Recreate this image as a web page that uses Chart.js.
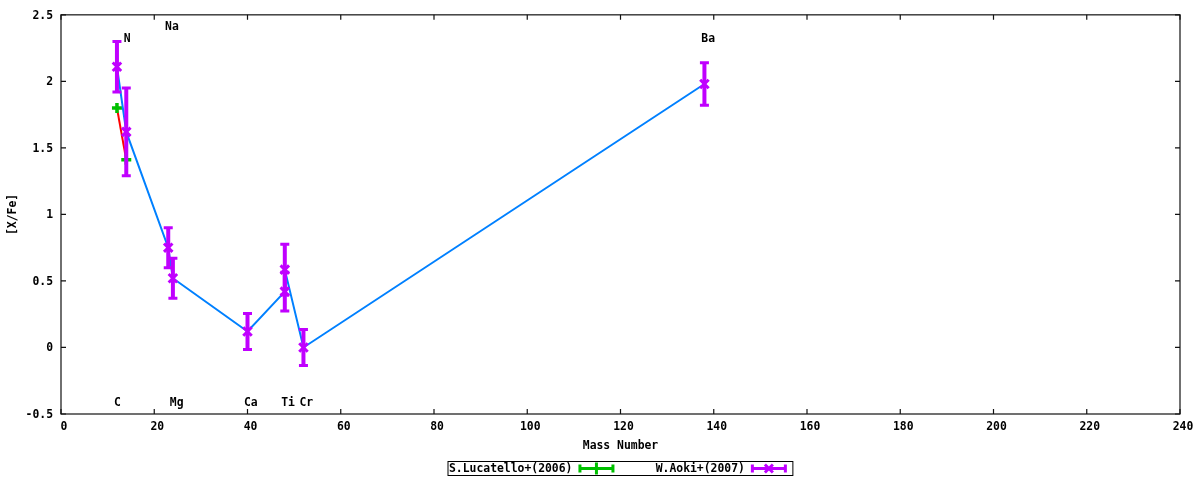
<!DOCTYPE html>
<html>
<head>
<meta charset="utf-8">
<script src="https://cdn.jsdelivr.net/npm/chart.js@4.4.1/dist/chart.umd.min.js"></script>
<style>
html, body { margin: 0; padding: 0; background: #fff; }
</style>
</head>
<body>
<canvas id="bolluk" width="1200" height="480"></canvas>
<script>
// S.Lucatello+(2006)
const lucMass = [12, 14];
const lucFe = [1.80, 1.41];

// W.Aoki+(2007)
const aokiMass = [12, 14, 23, 24, 40, 48, 48, 52, 138];
const aokiFe = [2.11, 1.62, 0.75, 0.52, 0.12, 0.42, 0.585, 0.0, 1.98];
const aokiErr = [0.19, 0.33, 0.15, 0.15, 0.135, 0.145, 0.19, 0.135, 0.16];

const seriesNames = ['S.Lucatello+(2006)', 'W.Aoki+(2007)'];

// element names written inside the plot
const elemNames = ['C', 'N', 'Na', 'Mg', 'Ca', 'Ti', 'Cr', 'Ba'];
const elemX = [12.1, 14.2, 23.8, 24.8, 40.7, 48.7, 52.6, 138.8];
const elemY = [-0.42, 2.32, 2.41, -0.42, -0.42, -0.42, -0.42, 2.32];

const xRange = [0, 240, 20];
const yRange = [-0.5, 2.5, 0.5];

const FONT = "bold 11.4px 'DejaVu Sans Mono'";
const yesil = '#00c000';
const mor = '#c000ff';
const mavi = '#0080ff';
const kirmizi = '#ff0000';

function pts(xs, ys) {
    return xs.map((v, i) => ({x: v, y: ys[i]}));
}

function drawSample(ctx, x0, x1, yc, color, mark) {
    ctx.strokeStyle = color;
    ctx.lineWidth = 3;
    ctx.beginPath();
    ctx.moveTo(x0, yc); ctx.lineTo(x1, yc);
    ctx.moveTo(x0 + 1.5, yc - 4); ctx.lineTo(x0 + 1.5, yc + 4);
    ctx.moveTo(x1 - 1.5, yc - 4); ctx.lineTo(x1 - 1.5, yc + 4);
    ctx.stroke();
    const xc = (x0 + x1) / 2;
    ctx.beginPath();
    if (mark === '+') {
        ctx.moveTo(xc, yc - 6); ctx.lineTo(xc, yc + 6);
    } else {
        ctx.moveTo(xc - 4, yc - 4); ctx.lineTo(xc + 4, yc + 4);
        ctx.moveTo(xc - 4, yc + 4); ctx.lineTo(xc + 4, yc - 4);
    }
    ctx.stroke();
}

const ciz = {
    id: 'ciz',
    afterDatasetsDraw(chart) {
        const {ctx, chartArea: a, scales: {x, y}} = chart;
        ctx.save();

        // error bars
        ctx.strokeStyle = mor;
        aokiMass.forEach((m, i) => {
            const px = x.getPixelForValue(m);
            const top = y.getPixelForValue(aokiFe[i] + aokiErr[i]);
            const bot = y.getPixelForValue(aokiFe[i] - aokiErr[i]);
            ctx.lineWidth = 4;
            ctx.beginPath();
            ctx.moveTo(px, top); ctx.lineTo(px, bot);
            ctx.stroke();
            ctx.lineWidth = 3;
            ctx.beginPath();
            ctx.moveTo(px - 4.5, top); ctx.lineTo(px + 4.5, top);
            ctx.moveTo(px - 4.5, bot); ctx.lineTo(px + 4.5, bot);
            ctx.stroke();
        });

        // element labels
        ctx.fillStyle = '#000';
        ctx.font = FONT;
        ctx.textAlign = 'center';
        ctx.textBaseline = 'middle';
        elemNames.forEach((n, i) => {
            ctx.fillText(n, x.getPixelForValue(elemX[i]), y.getPixelForValue(elemY[i]));
        });

        // frame and inward ticks
        ctx.strokeStyle = '#111';
        ctx.lineWidth = 1.2;
        ctx.strokeRect(a.left, a.top, a.right - a.left, a.bottom - a.top);
        ctx.beginPath();
        x.ticks.forEach(t => {
            const px = x.getPixelForValue(t.value);
            ctx.moveTo(px, a.bottom); ctx.lineTo(px, a.bottom - 5);
            ctx.moveTo(px, a.top); ctx.lineTo(px, a.top + 5);
        });
        y.ticks.forEach(t => {
            const py = y.getPixelForValue(t.value);
            ctx.moveTo(a.left, py); ctx.lineTo(a.left + 5, py);
            ctx.moveTo(a.right, py); ctx.lineTo(a.right - 5, py);
        });
        ctx.stroke();
        ctx.restore();
    },
    afterDraw(chart) {
        // gnuplot style key under the plot
        const {ctx, chartArea: a} = chart;
        ctx.save();
        ctx.font = FONT;
        const tw = Math.max(...seriesNames.map(n => ctx.measureText(n).width));
        const colW = tw + 49;
        const left = Math.round((a.left + a.right) / 2 - colW);
        const top = 461.5, h = 14, yc = top + h / 2;
        ctx.strokeStyle = '#000';
        ctx.lineWidth = 1;
        ctx.strokeRect(left, top, colW * 2, h);
        ctx.fillStyle = '#000';
        ctx.textAlign = 'right';
        ctx.textBaseline = 'middle';
        const renk = [yesil, mor];
        const isaret = ['+', 'x'];
        seriesNames.forEach((n, i) => {
            const c0 = left + i * colW;
            ctx.fillText(n, c0 + 1 + tw, yc + 0.5);
            drawSample(ctx, c0 + tw + 7, c0 + tw + 43, yc, renk[i], isaret[i]);
        });
        ctx.restore();
    }
};

Chart.defaults.font.family = "'DejaVu Sans Mono'";
Chart.defaults.font.size = 11.4;
Chart.defaults.font.weight = 'bold';
Chart.defaults.color = '#000';

const config = {
    type: 'line',
    data: {
        datasets: [{
            label: seriesNames[1],
            data: pts(aokiMass, aokiFe),
            showLine: false,
            pointStyle: 'crossRot',
            pointRadius: 6,
            pointBorderWidth: 3,
            borderColor: mor,
            backgroundColor: mor
        }, {
            label: 'aoki-line',
            data: pts(aokiMass, aokiFe),
            borderColor: mavi,
            borderWidth: 2,
            pointRadius: 0,
            tension: 0
        }, {
            label: seriesNames[0],
            data: pts(lucMass, lucFe),
            showLine: false,
            pointStyle: 'cross',
            pointRadius: 5,
            pointBorderWidth: 3.5,
            borderColor: yesil,
            backgroundColor: yesil
        }, {
            label: 'luc-line',
            data: pts(lucMass, lucFe),
            borderColor: kirmizi,
            borderWidth: 2,
            pointRadius: 0,
            tension: 0
        }]
    },
    options: {
        responsive: false,
        animation: false,
        devicePixelRatio: 1,
        events: [],
        layout: {
            padding: {left: 0, top: 14, right: 20, bottom: 0}
        },
        plugins: {
            legend: {display: false},
            tooltip: {enabled: false}
        },
        scales: {
            x: {
                type: 'linear',
                min: xRange[0],
                max: xRange[1],
                grid: {display: false, drawTicks: false},
                border: {display: false},
                ticks: {stepSize: xRange[2], padding: 6, labelOffset: 3, maxRotation: 0},
                title: {
                    display: true,
                    text: 'Mass Number',
                    padding: {top: 0, bottom: 27}
                },
                afterFit(scale) { scale.height = 66; }
            },
            y: {
                type: 'linear',
                min: yRange[0],
                max: yRange[1],
                grid: {display: false, drawTicks: false},
                border: {display: false},
                ticks: {
                    stepSize: yRange[2],
                    padding: 8,
                    labelOffset: 1,
                    callback: v => String(Math.round(v * 10) / 10)
                },
                title: {
                    display: true,
                    text: '[X/Fe]',
                    padding: {top: 6, bottom: 0}
                },
                afterFit(scale) { scale.width = 61; }
            }
        }
    },
    plugins: [ciz]
};

const context = document.getElementById('bolluk').getContext('2d');
const grafik = new Chart(context, config);
</script>
</body>
</html>
